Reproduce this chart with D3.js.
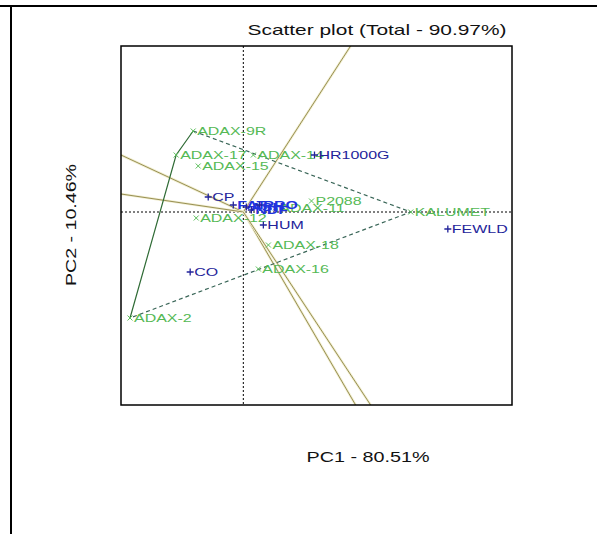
<!DOCTYPE html>
<html lang="en">
<head>
<meta charset="UTF-8">
<title>Scatter plot</title>
<script src="https://cdn.jsdelivr.net/npm/d3@7"></script>
<style>
  body { margin: 0; background: #fff; }
  text { font-family: "Liberation Sans", Arial, sans-serif; }
</style>
</head>
<body>
<script>
var width = 597, height = 534;

// observations (green)
var obsNames = ["ADAX-9R", "ADAX-17", "ADAX-14", "ADAX-15", "ADAX-12", "ADAX-11", "P2088", "KALUMET", "ADAX-18", "ADAX-16", "ADAX-2"];
var obsX = [-0.50, -0.67, 0.10, -0.45, -0.47, 0.32, 0.68, 1.67, 0.25, 0.15, -1.13];
var obsY = [0.81, 0.57, 0.57, 0.46, -0.06, 0.04, 0.11, 0.00, -0.33, -0.57, -1.06];

// variables (blue)
var varNames = ["HR1000G", "CP", "CO", "HUM", "FEWLD", "FAT", "ASH", "PRO", "NDF"];
var varX = [0.71, -0.35, -0.53, 0.20, 2.04, -0.10, 0.03, 0.16, 0.08];
var varY = [0.57, 0.15, -0.60, -0.13, -0.17, 0.07, 0.05, 0.07, 0.02];

// directions of the loading lines (drawn from origin, clipped by the box)
var vecX = [1.07, -1.22, -1.22, 1.12, 1.27];
var vecY = [1.66, 0.57, 0.18, -1.93, -1.93];

// hull edges
var hullSolid = ["ADAX-9R", "ADAX-17", "ADAX-2"];
var hullDashed = ["ADAX-9R", "KALUMET", "ADAX-2"];

var box = {left: 121, right: 512, top: 46, bottom: 405};

var x = d3.scaleLinear().domain([-1.22, 2.68]).range([box.left, box.right]);
var y = d3.scaleLinear().domain([-1.93, 1.66]).range([box.bottom, box.top]);

var svg = d3.select("body").append("svg")
    .attr("width", width).attr("height", height);

// page frame
svg.append("line").attr("x1", 0).attr("x2", width).attr("y1", 6).attr("y2", 6)
    .attr("stroke", "#000").attr("stroke-width", 2);
svg.append("line").attr("x1", 11).attr("x2", 11).attr("y1", 6).attr("y2", height)
    .attr("stroke", "#000").attr("stroke-width", 2);

svg.append("clipPath").attr("id", "clip").append("rect")
    .attr("x", box.left).attr("y", box.top)
    .attr("width", box.right - box.left).attr("height", box.bottom - box.top);

var plot = svg.append("g").attr("clip-path", "url(#clip)");

// axes through origin
plot.append("line").attr("x1", x(0)).attr("x2", x(0)).attr("y1", box.top).attr("y2", box.bottom)
    .attr("stroke", "#000").attr("stroke-dasharray", "2,2");
plot.append("line").attr("x1", box.left).attr("x2", box.right).attr("y1", y(0)).attr("y2", y(0))
    .attr("stroke", "#000").attr("stroke-dasharray", "2,2");

// loading lines
vecX.forEach(function(d, i){
    plot.append("line").attr("x1", x(0)).attr("y1", y(0)).attr("x2", x(d)).attr("y2", y(vecY[i]))
        .attr("stroke", "#f1eed0").attr("stroke-width", 2.5);
    plot.append("line").attr("x1", x(0)).attr("y1", y(0)).attr("x2", x(d)).attr("y2", y(vecY[i]))
        .attr("stroke", "#8d8545").attr("stroke-width", 0.9);
});

function obsPoint(n){
    var i = obsNames.indexOf(n);
    return [x(obsX[i]), y(obsY[i])];
}

plot.append("path")
    .attr("d", d3.line()(hullSolid.map(obsPoint)))
    .attr("fill", "none").attr("stroke", "#2f6b35").attr("stroke-width", 1.2);
plot.append("path")
    .attr("d", d3.line()(hullDashed.map(obsPoint)))
    .attr("fill", "none").attr("stroke", "#3a6658").attr("stroke-width", 1.2)
    .attr("stroke-dasharray", "4,3");

function stretch(sel, k){
    sel.each(function(){
        var len = this.getComputedTextLength();
        d3.select(this).attr("textLength", len * k).attr("lengthAdjust", "spacingAndGlyphs");
    });
}

// observation markers and labels
var obs = plot.selectAll("g.obs").data(obsNames).enter().append("g")
    .attr("transform", function(d, i){ return "translate(" + x(obsX[i]) + "," + y(obsY[i]) + ")"; });
obs.append("path").attr("d", "M-2.5,-2.5L2.5,2.5M-2.5,2.5L2.5,-2.5")
    .attr("stroke", "#5cbf5c").attr("stroke-width", 1);
obs.append("text").attr("x", 4).attr("y", 4)
    .attr("font-size", "11px").attr("fill", "#55b955")
    .text(function(d){ return d; })
    .call(stretch, 1.45);

// variable markers and labels
var vars = plot.selectAll("g.var").data(varNames).enter().append("g")
    .attr("transform", function(d, i){ return "translate(" + x(varX[i]) + "," + y(varY[i]) + ")"; });
vars.append("path").attr("d", "M-3.5,0H3.5M0,-3.5V3.5")
    .attr("stroke", "#22239a").attr("stroke-width", 1.3);
vars.append("text").attr("x", 4).attr("y", 4)
    .attr("font-size", "11px").attr("fill", function(d, i){ return i > 4 ? "#2233dd" : "#23239a"; })
    .attr("font-weight", function(d, i){ return i > 4 ? "bold" : "normal"; })
    .text(function(d){ return d; })
    .call(stretch, 1.45);

// plot box
svg.append("rect").attr("x", box.left).attr("y", box.top)
    .attr("width", box.right - box.left).attr("height", box.bottom - box.top)
    .attr("fill", "none").attr("stroke", "#000").attr("stroke-width", 1.5);

// titles
svg.append("text").attr("x", 377).attr("y", 35).attr("text-anchor", "middle")
    .attr("font-size", "15px").attr("fill", "#111")
    .text("Scatter plot (Total - 90.97%)")
    .attr("textLength", 259).attr("lengthAdjust", "spacingAndGlyphs");

svg.append("text").attr("x", 368).attr("y", 462).attr("text-anchor", "middle")
    .attr("font-size", "15px").attr("fill", "#111")
    .text("PC1 - 80.51%")
    .attr("textLength", 123).attr("lengthAdjust", "spacingAndGlyphs");

svg.append("text").attr("transform", "translate(76,225) rotate(-90)").attr("text-anchor", "middle")
    .attr("font-size", "15px").attr("fill", "#111")
    .text("PC2 - 10.46%")
    .attr("textLength", 122).attr("lengthAdjust", "spacingAndGlyphs");
</script>
</body>
</html>
